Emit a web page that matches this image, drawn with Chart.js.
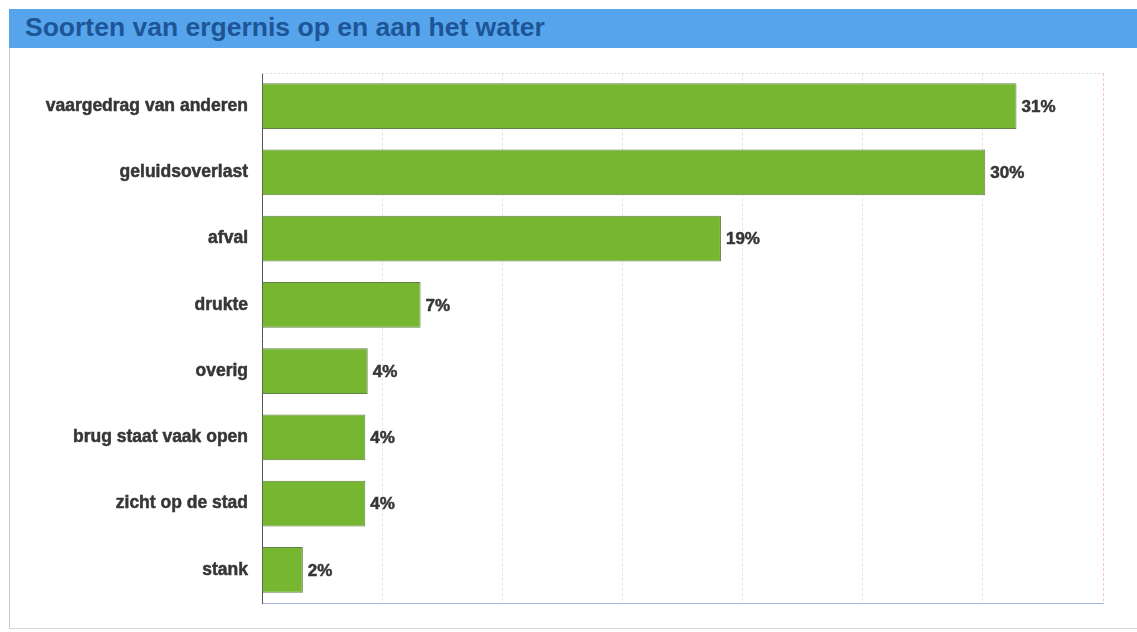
<!DOCTYPE html>
<html>
<head>
<meta charset="utf-8">
<script src="https://cdn.jsdelivr.net/npm/chart.js@4"></script>
<style>
  html, body { margin: 0; padding: 0; background: #fff; }
  body { width: 1137px; height: 632px; position: relative; overflow: hidden; font-family: "Liberation Sans", Arial, sans-serif; }
  .frame { position: absolute; left: 9px; top: 9px; width: 1140px; height: 619px; border-left: 1px solid #c9ccd0; border-bottom: 1px solid #d4d6d9; }
  .title-bar { position: absolute; left: 9px; top: 9px; width: 1128px; height: 39px; background: #56a5ec; }
  .title-bar h1 { margin: 0; padding: 0 0 0 16px; font-size: 26.5px; line-height: 37px; font-weight: bold; color: #1d5596; }
  .chart-box { position: absolute; left: 10px; top: 48px; width: 1127px; height: 584px; }
</style>
</head>
<body>
<div class="frame"></div>
<div class="title-bar"><h1>Soorten van ergernis op en aan het water</h1></div>
<div class="chart-box"><canvas id="chart"></canvas></div>
<script>
const categories = [
  "vaargedrag van anderen",
  "geluidsoverlast",
  "afval",
  "drukte",
  "overig",
  "brug staat vaak open",
  "zicht op de stad",
  "stank",
];
// bar lengths (percent)
const shares = [31.4, 30.1, 19.1, 6.6, 4.4, 4.3, 4.3, 1.7];
// printed labels next to the bars
const shareLabels = ["31%", "30%", "19%", "7%", "4%", "4%", "4%", "2%"];

const labelFont = { family: "'Liberation Sans', Arial, sans-serif", size: 17.5, weight: "bold" };

// percentage text at the end of every bar
const barLabels = {
  id: "barLabels",
  afterDatasetsDraw(chart) {
    const { ctx } = chart;
    const meta = chart.getDatasetMeta(0);
    ctx.save();
    ctx.font = "bold 17px 'Liberation Sans', Arial, sans-serif";
    ctx.fillStyle = "#363636";
    ctx.strokeStyle = "#363636";
    ctx.lineWidth = 0.5;
    ctx.textAlign = "left";
    ctx.textBaseline = "middle";
    meta.data.forEach((bar, i) => {
      ctx.fillText(shareLabels[i], bar.x + 5, bar.y + 1);
      ctx.strokeText(shareLabels[i], bar.x + 5, bar.y + 1);
    });
    ctx.restore();
  },
};

// dotted top edge of the plot area
const plotEdge = {
  id: "plotEdge",
  beforeDatasetsDraw(chart) {
    const { ctx, chartArea } = chart;
    ctx.save();
    ctx.strokeStyle = "#d5d5d5";
    ctx.lineWidth = 1;
    ctx.setLineDash([2, 2]);
    ctx.beginPath();
    ctx.moveTo(chartArea.left, chartArea.top + 0.5);
    ctx.lineTo(chartArea.right, chartArea.top + 0.5);
    ctx.stroke();
    ctx.restore();
  },
};

new Chart(document.getElementById("chart"), {
  type: "bar",
  data: {
    labels: categories,
    datasets: [
      {
        data: shares,
        backgroundColor: "#77b631",
        borderColor: "#62804a",
        borderWidth: 1,
        barPercentage: 0.69,
        categoryPercentage: 1,
      },
    ],
  },
  options: {
    indexAxis: "y",
    responsive: true,
    maintainAspectRatio: false,
    animation: false,
    layout: { padding: { top: 25, right: 34, bottom: 29, left: 0 } },
    plugins: {
      legend: { display: false },
      tooltip: { enabled: false },
    },
    scales: {
      x: {
        min: 0,
        max: 35,
        ticks: { display: false, stepSize: 5 },
        grid: {
          drawTicks: false,
          color: (c) => (c.tick && c.tick.value === 35 ? "#f2c4cc" : "#e6e6e6"),
        },
        border: { display: true, color: "#a9b4e0", dash: [3, 2] },
        afterFit(scale) {
          scale.height = 0;
        },
      },
      y: {
        ticks: {
          color: "#363636",
          font: labelFont,
          padding: 14,
          textStrokeColor: "#363636",
          textStrokeWidth: 0.5,
        },
        grid: { display: false, drawTicks: false },
        border: { display: true, color: "#555555", width: 1 },
        afterFit(scale) {
          scale.width = 252;
        },
      },
    },
  },
  plugins: [barLabels, plotEdge],
});
</script>
</body>
</html>
